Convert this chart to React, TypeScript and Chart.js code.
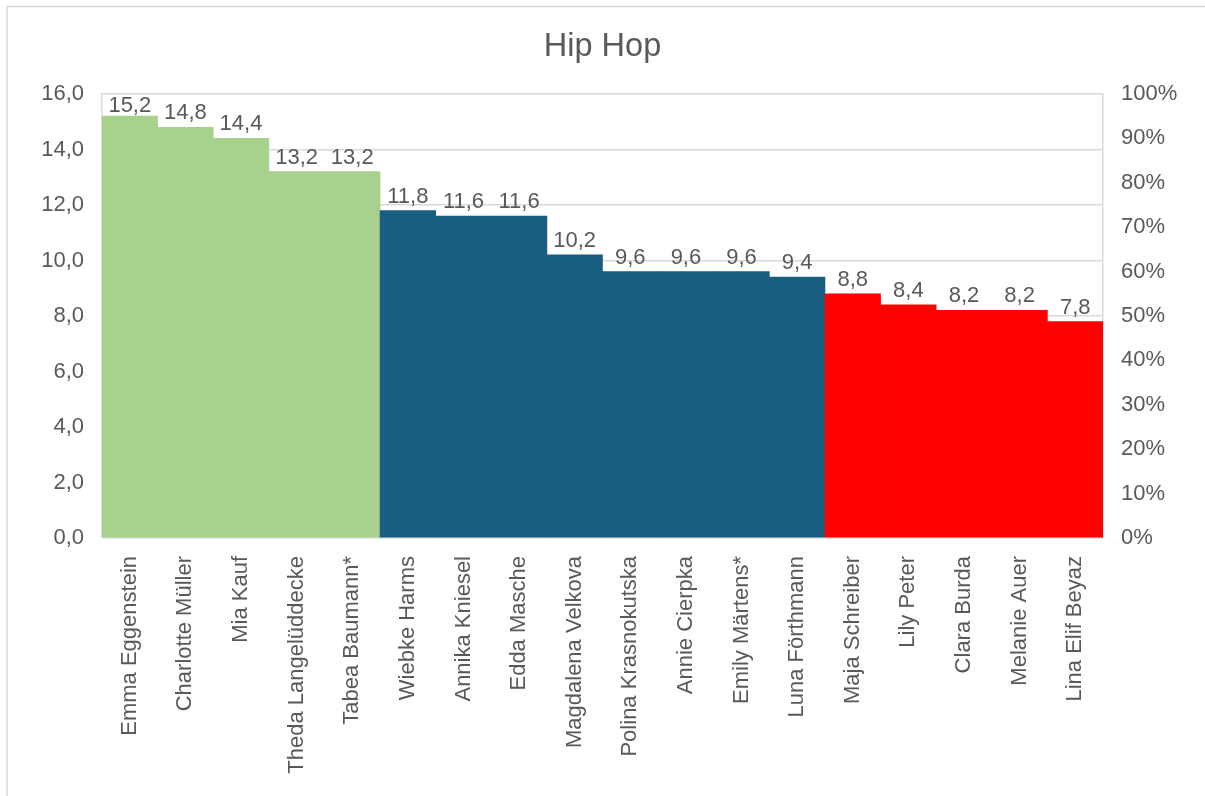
import React, { useEffect, useRef } from 'react';
import { Chart, registerables } from 'chart.js';

Chart.register(...registerables);

const categories = [
  'Emma Eggenstein',
  'Charlotte Müller',
  'Mia Kauf',
  'Theda Langelüddecke',
  'Tabea Baumann*',
  'Wiebke Harms',
  'Annika Kniesel',
  'Edda Masche',
  'Magdalena Velkova',
  'Polina Krasnokutska',
  'Annie Cierpka',
  'Emily Märtens*',
  'Luna Förthmann',
  'Maja Schreiber',
  'Lily Peter',
  'Clara Burda',
  'Melanie Auer',
  'Lina Elif Beyaz',
];

const values = [15.2, 14.8, 14.4, 13.2, 13.2, 11.8, 11.6, 11.6, 10.2, 9.6, 9.6, 9.6, 9.4, 8.8, 8.4, 8.2, 8.2, 7.8];

const tiers = ['top', 'top', 'top', 'top', 'top', 'mid', 'mid', 'mid', 'mid', 'mid', 'mid', 'mid', 'mid', 'low', 'low', 'low', 'low', 'low'];

const title = 'Hip Hop';

const tierColors: Record<string, string> = {
  top: '#A9D18E',
  mid: '#185E80',
  low: '#FF0000',
};

const TEXT = '#595959';
const GRID = '#D9D9D9';
const FONT = '"Liberation Sans", Arial, sans-serif';

const fmt = (v: number) => v.toFixed(1).replace('.', ',');

const outerBorder = {
  id: 'outerBorder',
  beforeDraw(chart: any) {
    const { ctx, width, height } = chart;
    ctx.save();
    ctx.fillStyle = '#ffffff';
    ctx.fillRect(0, 0, width, height);
    ctx.strokeStyle = GRID;
    ctx.lineWidth = 1.5;
    ctx.strokeRect(7, 6.5, width + 10, height + 10);
    ctx.restore();
  },
};

const dataLabels = {
  id: 'dataLabels',
  afterDatasetsDraw(chart: any) {
    const { ctx, chartArea } = chart;
    const meta = chart.getDatasetMeta(0);
    ctx.save();
    ctx.fillStyle = TEXT;
    ctx.font = `22px ${FONT}`;
    ctx.textAlign = 'center';
    ctx.textBaseline = 'alphabetic';
    meta.data.forEach((el: any, i: number) => {
      const y = Math.max(el.y - 8, chartArea.top + 18);
      ctx.fillText(fmt(values[i]), el.x, y);
    });
    ctx.restore();
  },
};

export default function App() {
  const ref = useRef<HTMLCanvasElement | null>(null);

  useEffect(() => {
    if (!ref.current) return;
    const chart = new Chart(ref.current, {
      type: 'bar',
      data: {
        labels: categories,
        datasets: [
          {
            data: values,
            backgroundColor: tiers.map((t) => tierColors[t]),
            borderWidth: 0,
            barPercentage: 1,
            categoryPercentage: 1,
            yAxisID: 'y',
          },
        ],
      },
      options: {
        animation: false,
        responsive: true,
        maintainAspectRatio: false,
        layout: { padding: 0 },
        plugins: {
          legend: { display: false },
          tooltip: { enabled: false },
          title: {
            display: true,
            text: title,
            color: TEXT,
            font: { size: 32.5, weight: 'normal', family: FONT },
            padding: { top: 28, bottom: 27 },
          },
        },
        scales: {
          x: {
            grid: { display: false, drawTicks: false },
            border: { display: false },
            ticks: {
              color: TEXT,
              font: { size: 22, family: FONT },
              minRotation: 90,
              maxRotation: 90,
              padding: 18,
              autoSkip: false,
            },
            afterFit: (s: any) => {
              s.height = 258;
            },
          },
          y: {
            position: 'left',
            min: 0,
            max: 16,
            ticks: {
              stepSize: 2,
              color: TEXT,
              font: { size: 22, family: FONT },
              padding: 18,
              callback: (v: any) => fmt(Number(v)),
            },
            grid: { color: GRID, drawTicks: false, lineWidth: 1.5 },
            border: { display: true, color: GRID, width: 1.5 },
            afterFit: (s: any) => {
              s.width = 102;
            },
          },
          y1: {
            position: 'right',
            min: 0,
            max: 1,
            ticks: {
              stepSize: 0.1,
              color: TEXT,
              font: { size: 22, family: FONT },
              padding: 18,
              callback: (v: any) => Math.round(Number(v) * 100) + '%',
            },
            grid: { display: false, drawTicks: false },
            border: { display: true, color: GRID, width: 1.5 },
            afterFit: (s: any) => {
              s.width = 102;
            },
          },
        },
      } as any,
      plugins: [outerBorder, dataLabels],
    });
    return () => chart.destroy();
  }, []);

  return (
    <div style={{ position: 'absolute', left: 0, top: 0, width: 1205, height: 796 }}>
      <canvas ref={ref} />
    </div>
  );
}
